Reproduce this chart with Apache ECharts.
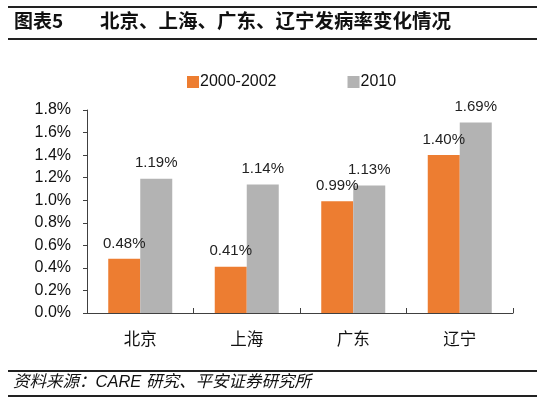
<!DOCTYPE html>
<html><head><meta charset="utf-8">
<script src="https://cdn.jsdelivr.net/npm/echarts@6/dist/echarts.min.js"></script>
<style>html,body{margin:0;padding:0;background:#fff}#c{width:554px;height:408px}</style>
</head><body><div id="c"></div>
<script>
const categories = ['北京', '上海', '广东', '辽宁'];
const seriesNames = ['2000-2002', '2010'];
const values2000 = [0.48, 0.41, 0.99, 1.40];
const values2010 = [1.19, 1.14, 1.13, 1.69];
const yTicks = { min: 0, max: 1.8, interval: 0.2 };

const cjk = '"Liberation Sans", Arial, "Noto Sans CJK SC", sans-serif';
const chart = echarts.init(document.getElementById('c'));
const lbl = {
  show: true, position: 'top', distance: 8, color: '#222', fontSize: 15,
  fontFamily: cjk, formatter: p => p.value.toFixed(2) + '%'
};
chart.setOption({
  animation: false,
  textStyle: { fontFamily: cjk },
  grid: { left: 87, right: 41, top: 110, bottom: 95, containLabel: false },
  legend: {
    left: 182, top: 69, itemWidth: 12, itemHeight: 12, itemGap: 71,
    icon: 'rect', textStyle: { fontSize: 16, color: '#111', fontFamily: cjk, padding: [0,0,0,-4] },
    data: seriesNames
  },
  xAxis: {
    type: 'category', data: categories,
    axisLine: { lineStyle: { color: '#404040', width: 1 } },
    axisTick: { show: true, inside: true, length: 5, lineStyle: { color: '#404040' } },
    axisLabel: { fontSize: 16.5, color: '#111', margin: 19, fontFamily: cjk }
  },
  yAxis: {
    type: 'value', min: yTicks.min, max: yTicks.max, interval: yTicks.interval,
    splitLine: { show: false },
    axisLine: { show: true, lineStyle: { color: '#404040', width: 1 } },
    axisTick: { show: true, length: 4, lineStyle: { color: '#404040' } },
    axisLabel: { fontSize: 16, color: '#111', margin: 16, fontFamily: cjk,
      formatter: v => v.toFixed(1) + '%' }
  },
  series: [
    { name: seriesNames[0], type: 'bar', data: values2000, barWidth: 32, barGap: '0%',
      itemStyle: { color: '#ED7D31' }, label: lbl },
    { name: seriesNames[1], type: 'bar', data: values2010, barWidth: 32,
      itemStyle: { color: '#B3B3B3' }, label: lbl }
  ],
  graphic: [
    { type: 'rect', shape: { x: 8, y: 6, width: 529, height: 2 }, style: { fill: '#222' } },
    { type: 'rect', shape: { x: 8, y: 38, width: 529, height: 2 }, style: { fill: '#222' } },
    { type: 'rect', shape: { x: 8, y: 370, width: 529, height: 2 }, style: { fill: '#222' } },
    { type: 'rect', shape: { x: 8, y: 395, width: 529, height: 2 }, style: { fill: '#222' } },
    { type: 'text', left: 14, top: 11, style: { text: '图表5', fontSize: 19, fontWeight: 'bold',
      fill: '#111', fontFamily: '"Noto Sans CJK SC", sans-serif' } },
    { type: 'text', left: 100, top: 11, style: { text: '北京、上海、广东、辽宁发病率变化情况', fontSize: 19.5,
      fontWeight: 'bold', fill: '#111', fontFamily: '"Noto Sans CJK SC", sans-serif' } },
    { type: 'text', left: 13, top: 374, style: { text: '资料来源：CARE 研究、平安证券研究所', fontSize: 16.5,
      fontStyle: 'italic', fill: '#111', fontFamily: '"Liberation Sans", "Noto Sans CJK SC", sans-serif' } }
  ]
});
</script></body></html>
